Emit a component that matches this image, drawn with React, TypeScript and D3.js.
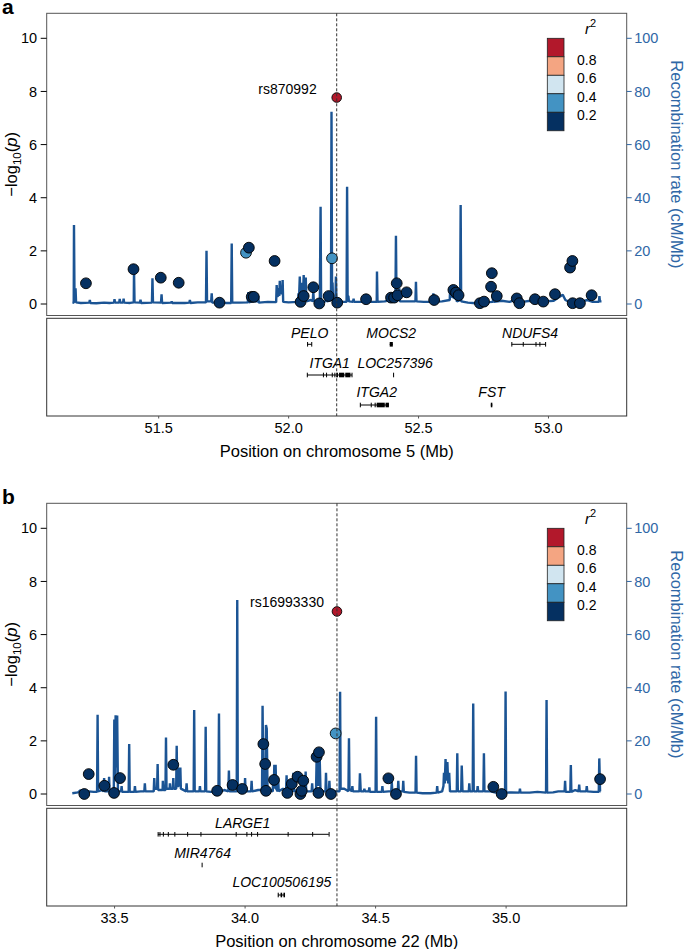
import React from "react";
import * as d3 from "d3";

// ---------------- DATA ----------------
const r2Breaks = [0.2, 0.4, 0.6, 0.8];
const r2Colors = ["#053061", "#4393C3", "#D1E5F0", "#F4A582", "#B2182B"];
const r2Labels = ["0.8", "0.6", "0.4", "0.2"];

const pTicks = [0, 2, 4, 6, 8, 10];
const recTicks = [0, 20, 40, 60, 80, 100];

// Panel a: chromosome 5
const xDomainA: [number, number] = [51.069, 53.301];
const xTicksA = [51.5, 52.0, 52.5, 53.0];
const leadA = { pos: 52.185, p: 7.77, name: "rs870992" };
// [position Mb, -log10 p, r2]
const pointsA: [number, number, number][] = [
  [51.220, 0.78, 0.05], [51.403, 1.31, 0.05], [51.508, 0.99, 0.05], [51.577, 0.80, 0.05],
  [51.734, 0.05, 0.05], [51.836, 1.93, 0.3], [51.847, 2.12, 0.05], [51.858, 0.27, 0.05],
  [51.866, 0.27, 0.05], [51.946, 1.62, 0.05], [52.046, 0.08, 0.05], [52.058, 0.30, 0.05],
  [52.095, 0.63, 0.05], [52.118, 0.02, 0.05], [52.154, 0.30, 0.05], [52.167, 1.72, 0.3],
  [52.187, 0.05, 0.05], [52.298, 0.18, 0.05], [52.394, 0.24, 0.05], [52.406, 0.24, 0.05],
  [52.416, 0.78, 0.05], [52.419, 0.33, 0.05], [52.454, 0.44, 0.05], [52.560, 0.15, 0.05],
  [52.634, 0.53, 0.05], [52.644, 0.43, 0.05], [52.654, 0.33, 0.05], [52.736, 0.03, 0.05],
  [52.752, 0.09, 0.05], [52.782, 1.16, 0.05], [52.779, 0.65, 0.05], [52.801, 0.30, 0.05],
  [52.878, 0.21, 0.05], [52.888, 0.03, 0.05], [52.948, 0.18, 0.05], [52.980, 0.09, 0.05],
  [53.025, 0.37, 0.05], [53.083, 1.37, 0.05], [53.092, 1.62, 0.05], [53.093, 0.03, 0.05],
  [53.121, 0.03, 0.05], [53.166, 0.33, 0.05],
];
// [position Mb, recombination rate cM/Mb]
const recA: [number, number][] = [
  [51.168, 0.4], [51.173, 0.5], [51.174, 29.7], [51.176, 2], [51.179, 2], [51.180, 5.9], [51.182, 0.6],
  [51.20, 0.4], [51.233, 0.5], [51.235, 1.5], [51.237, 0.4], [51.26, 0.3], [51.29, 0.5], [51.31, 0.4],
  [51.328, 0.5], [51.33, 1.8], [51.332, 0.5], [51.348, 0.5], [51.35, 1.9], [51.352, 0.5], [51.363, 0.5],
  [51.365, 2], [51.367, 0.5], [51.39, 0.4], [51.404, 0.6], [51.405, 12.8], [51.407, 0.6], [51.428, 0.5],
  [51.43, 1.6], [51.432, 0.4], [51.474, 0.5], [51.476, 9.7], [51.478, 0.6], [51.509, 0.5], [51.511, 3.6],
  [51.513, 0.4], [51.548, 0.5], [51.55, 1], [51.552, 0.4], [51.60, 0.4], [51.618, 0.5], [51.62, 1.5],
  [51.622, 0.4], [51.65, 0.6], [51.682, 0.6], [51.684, 20], [51.686, 1], [51.702, 1], [51.704, 4],
  [51.706, 0.5], [51.74, 0.6], [51.76, 0.4], [51.779, 0.4], [51.781, 22.8], [51.783, 0.5], [51.81, 0.5],
  [51.843, 0.6], [51.845, 4.5], [51.847, 0.6], [51.86, 1], [51.881, 1], [51.883, 3], [51.885, 0.5],
  [51.92, 0.8], [51.952, 0.7], [51.954, 7.1], [51.956, 3], [51.960, 3], [51.962, 6], [51.964, 3],
  [51.966, 8.7], [51.968, 4], [51.975, 4], [51.977, 9], [51.979, 0.8], [52.00, 0.6], [52.036, 0.8],
  [52.038, 4], [52.040, 2], [52.043, 10.3], [52.045, 3], [52.051, 3], [52.053, 8], [52.055, 3],
  [52.058, 10.9], [52.060, 3], [52.064, 3], [52.066, 10], [52.068, 1], [52.085, 1.5], [52.093, 1],
  [52.095, 5], [52.097, 1], [52.12, 1], [52.123, 36.6], [52.125, 1], [52.144, 1], [52.146, 2],
  [52.148, 1], [52.163, 1.5], [52.165, 72.4], [52.167, 8], [52.169, 8], [52.171, 1], [52.180, 1],
  [52.182, 10.3], [52.184, 1], [52.20, 0.8], [52.223, 0.8], [52.225, 44.1], [52.227, 3], [52.230, 3],
  [52.232, 1], [52.248, 0.8], [52.25, 2], [52.252, 0.8], [52.28, 0.8], [52.30, 1], [52.32, 0.8],
  [52.339, 0.8], [52.340, 12.2], [52.342, 0.8], [52.37, 1], [52.39, 1.5], [52.411, 1.5], [52.413, 25.7],
  [52.415, 3], [52.424, 3], [52.426, 5.9], [52.428, 1], [52.46, 1], [52.488, 1], [52.490, 8.4],
  [52.492, 1], [52.52, 0.8], [52.555, 0.8], [52.557, 4], [52.559, 0.8], [52.59, 1], [52.620, 1.5],
  [52.622, 6.3], [52.624, 3], [52.643, 2], [52.645, 4], [52.647, 1], [52.660, 1.5], [52.662, 37.3],
  [52.664, 1], [52.69, 0.5], [52.72, 0.3], [52.75, 0.6], [52.786, 0.8], [52.788, 6], [52.790, 0.8],
  [52.82, 1.2], [52.85, 0.8], [52.87, 1.5], [52.90, 0.8], [52.93, 1.2], [52.96, 0.8], [52.99, 1],
  [53.02, 1.2], [53.04, 2.5], [53.055, 3.5], [53.065, 1.5], [53.08, 0.8], [53.09, 2], [53.10, 0.8],
  [53.13, 1], [53.15, 1.5], [53.17, 0.8], [53.194, 0.8], [53.196, 3], [53.198, 1], [53.204, 1],
];
// genes: name, start, end, exons [start,end][], row, label position
const genesA = [
  { name: "PELO", start: 52.071, end: 52.089, exons: [[52.071, 52.073], [52.087, 52.089]], row: 0, label: 52.081 },
  { name: "MOCS2", start: 52.389, end: 52.401, exons: [[52.389, 52.401]], row: 0, label: 52.395 },
  { name: "NDUFS4", start: 52.858, end: 52.988, exons: [[52.857, 52.859], [52.901, 52.903], [52.950, 52.952], [52.965, 52.967], [52.987, 52.989]], row: 0, label: 52.929 },
  { name: "ITGA1", start: 52.071, end: 52.244, exons: [[52.070, 52.073], [52.132, 52.134], [52.144, 52.146], [52.166, 52.168], [52.176, 52.179], [52.183, 52.190], [52.194, 52.214], [52.218, 52.238], [52.242, 52.245]], row: 1, label: 52.158 },
  { name: "LOC257396", start: 52.402, end: 52.404, exons: [[52.402, 52.404]], row: 1, label: 52.410 },
  { name: "ITGA2", start: 52.275, end: 52.386, exons: [[52.274, 52.276], [52.316, 52.318], [52.331, 52.335], [52.339, 52.370], [52.373, 52.386]], row: 2, label: 52.339 },
  { name: "FST", start: 52.778, end: 52.784, exons: [[52.778, 52.784]], row: 2, label: 52.781 },
];

// Panel b: chromosome 22
const xDomainB: [number, number] = [33.240, 35.462];
const xTicksB = [33.5, 34.0, 34.5, 35.0];
const leadB = { pos: 34.352, p: 6.87, name: "rs16993330" };
const pointsB: [number, number, number][] = [
  [33.384, 0.0, 0.05], [33.401, 0.75, 0.05], [33.461, 0.31, 0.05], [33.498, 0.04, 0.05],
  [33.521, 0.60, 0.05], [33.725, 1.10, 0.05], [33.893, 0.12, 0.05], [33.952, 0.34, 0.05],
  [33.989, 0.19, 0.05], [34.070, 1.88, 0.05], [34.077, 1.13, 0.05], [34.080, 0.12, 0.05],
  [34.111, 0.53, 0.05], [34.162, 0.04, 0.05], [34.179, 0.38, 0.05], [34.201, 0.65, 0.05],
  [34.212, 0.0, 0.05], [34.217, 0.12, 0.05], [34.223, 0.50, 0.05], [34.274, 1.40, 0.05],
  [34.283, 1.57, 0.05], [34.281, 0.04, 0.05], [34.329, 0.0, 0.05], [34.347, 2.28, 0.3],
  [34.549, 0.59, 0.05], [34.578, 0.0, 0.05], [34.951, 0.27, 0.05], [34.983, 0.0, 0.05],
  [35.360, 0.56, 0.05],
];
const recB: [number, number][] = [
  [33.338, 0.3], [33.36, 0.6], [33.37, 1.5], [33.38, 0.4], [33.40, 1], [33.42, 0.8], [33.433, 0.8],
  [33.435, 29.8], [33.437, 1], [33.45, 1.5], [33.458, 1], [33.460, 6], [33.462, 1], [33.477, 1],
  [33.479, 6.5], [33.481, 1], [33.497, 1], [33.499, 28], [33.502, 5], [33.504, 29.6], [33.507, 10],
  [33.510, 29.5], [33.513, 1], [33.525, 1], [33.527, 3], [33.529, 0.8], [33.554, 0.8], [33.556, 18.8],
  [33.558, 0.8], [33.576, 0.8], [33.578, 3], [33.580, 0.8], [33.60, 1], [33.614, 1], [33.616, 4],
  [33.618, 1], [33.64, 1], [33.650, 1], [33.652, 6], [33.654, 2], [33.663, 2], [33.665, 11.3],
  [33.667, 1.5], [33.684, 1.5], [33.685, 5], [33.687, 1.5], [33.695, 1.5], [33.697, 21.3], [33.699, 2],
  [33.711, 2], [33.712, 4], [33.714, 2], [33.723, 2], [33.725, 6], [33.727, 2], [33.736, 2],
  [33.738, 18.2], [33.740, 3], [33.746, 3], [33.748, 10], [33.750, 4], [33.752, 10], [33.754, 2],
  [33.774, 1], [33.776, 4], [33.778, 1], [33.803, 1], [33.805, 31.6], [33.807, 1], [33.825, 1],
  [33.827, 3], [33.829, 1], [33.847, 1], [33.849, 25.3], [33.851, 1], [33.87, 0.8], [33.898, 0.8],
  [33.900, 30.3], [33.902, 0.8], [33.92, 1.5], [33.936, 1], [33.938, 8.8], [33.940, 1], [33.955, 1],
  [33.968, 1], [33.970, 73], [33.972, 1], [33.998, 1], [34.000, 6], [34.002, 1], [34.023, 1],
  [34.025, 5], [34.027, 1], [34.05, 1.5], [34.065, 1.5], [34.067, 33.2], [34.070, 3], [34.078, 3],
  [34.080, 26], [34.083, 24.6], [34.086, 2], [34.106, 1], [34.108, 6], [34.110, 2], [34.112, 11],
  [34.114, 3], [34.117, 11], [34.119, 2], [34.125, 1], [34.127, 5], [34.129, 1], [34.145, 2],
  [34.157, 1], [34.159, 7], [34.161, 1], [34.183, 1], [34.185, 8], [34.187, 1], [34.21, 2],
  [34.230, 1], [34.232, 8.5], [34.234, 1], [34.255, 1], [34.257, 4], [34.259, 1], [34.272, 2],
  [34.274, 13], [34.277, 3], [34.280, 14], [34.283, 3], [34.286, 13], [34.289, 1], [34.308, 1],
  [34.310, 8], [34.312, 1], [34.321, 1], [34.323, 5], [34.325, 1], [34.345, 1], [34.362, 1],
  [34.364, 38.5], [34.366, 2], [34.38, 2], [34.396, 1], [34.398, 21], [34.40, 2], [34.409, 1],
  [34.411, 3], [34.413, 1], [34.438, 1], [34.440, 7.8], [34.443, 1], [34.455, 1], [34.457, 2],
  [34.459, 1], [34.474, 1], [34.476, 2.5], [34.478, 0.8], [34.500, 0.8], [34.502, 29.1], [34.504, 0.8],
  [34.524, 0.8], [34.526, 3], [34.528, 0.8], [34.55, 1], [34.560, 1], [34.562, 4.5], [34.564, 1],
  [34.585, 1], [34.587, 5], [34.589, 1], [34.604, 1], [34.606, 5], [34.608, 0.8], [34.63, 0.5],
  [34.653, 0.5], [34.655, 14.4], [34.657, 0.5], [34.68, 0.3], [34.71, 0.3], [34.734, 0.5],
  [34.736, 3], [34.738, 0.5], [34.755, 1], [34.760, 3], [34.762, 8], [34.765, 4], [34.768, 13.2],
  [34.771, 5], [34.775, 12], [34.778, 4], [34.782, 8], [34.785, 1], [34.80, 1], [34.811, 1],
  [34.813, 15.3], [34.815, 1], [34.828, 1], [34.830, 10.7], [34.833, 1], [34.857, 1], [34.859, 4],
  [34.861, 1], [34.872, 1], [34.874, 34.1], [34.876, 1], [34.889, 1], [34.891, 3], [34.893, 1],
  [34.913, 1], [34.915, 15.3], [34.917, 1], [34.94, 1], [34.96, 0.5], [34.996, 0.5], [34.998, 38.6],
  [35.000, 0.5], [35.02, 0.6], [35.051, 0.5], [35.053, 2], [35.055, 0.5], [35.09, 0.5], [35.12, 0.8],
  [35.153, 0.5], [35.155, 35.4], [35.157, 0.5], [35.18, 0.6], [35.20, 1], [35.224, 1], [35.226, 5],
  [35.228, 0.8], [35.246, 0.8], [35.248, 10.9], [35.25, 0.8], [35.265, 1.5], [35.278, 1], [35.280, 3.5],
  [35.282, 1], [35.307, 1], [35.309, 3], [35.311, 1], [35.335, 0.8], [35.355, 0.8], [35.357, 13.4],
  [35.360, 1], [35.362, 1],
];
const genesB = [
  { name: "LARGE1", start: 33.666, end: 34.321, exons: [[33.665, 33.668], [33.672, 33.674], [33.685, 33.687], [33.704, 33.706], [33.729, 33.731], [33.778, 33.780], [33.829, 33.831], [33.964, 33.966], [34.005, 34.007], [34.023, 34.025], [34.046, 34.048], [34.163, 34.165], [34.257, 34.259], [34.320, 34.322]], row: 0, label: 33.991 },
  { name: "MIR4764", start: 33.834, end: 33.834, exons: [[33.8335, 33.8345]], row: 1, label: 33.837 },
  { name: "LOC100506195", start: 34.126, end: 34.153, exons: [[34.125, 34.129], [34.136, 34.142], [34.147, 34.153]], row: 2, label: 34.141 },
];

// ---------------- LAYOUT ----------------
const FONT = "'Liberation Sans', Arial, Helvetica, sans-serif";
const LEFT = 46.7;
const RIGHT = 626.7;
const PLOT_TOP = 13.3;
const PLOT_BOTTOM = 315.5;
const GENE_TOP = 318.3;
const GENE_BOTTOM = 416;
const REC_COLOR = "#1b5494";
const AXIS_BLUE = "#2f67a6";

type Gene = { name: string; start: number; end: number; exons: number[][]; row: number; label: number };

function Panel(props: {
  offset: number; letter: string; xDomain: [number, number]; xTicks: number[];
  points: [number, number, number][]; rec: [number, number][]; genes: Gene[];
  lead: { pos: number; p: number; name: string }; chrom: string; labelDx: number;
}) {
  const { offset, letter, xDomain, xTicks, points, rec, genes, lead, chrom, labelDx } = props;
  const x = d3.scaleLinear().domain(xDomain).range([LEFT, RIGHT]);
  const y = d3.scaleLinear().domain([0, 10]).range([304, 38.3]);
  const yR = d3.scaleLinear().domain([0, 100]).range([304, 38.3]);
  const color = d3.scaleThreshold<number, string>().domain(r2Breaks).range(r2Colors);
  const line = d3.line<[number, number]>().x((d) => x(d[0])).y((d) => yR(d[1]));
  const clipId = "clip" + letter;
  const rowLabelY = [GENE_TOP + 19.5, GENE_TOP + 49.3, GENE_TOP + 79];
  const rowGeneY = [GENE_TOP + 26, GENE_TOP + 56.7, GENE_TOP + 86.7];
  const legX = 547.3, legW = 16.7, legTop = y(10), legH = (y(6.52) - y(10)) / 5;
  const lx = x(lead.pos);
  return (
    <g transform={`translate(0,${offset})`} fontFamily={FONT}>
      <defs>
        <clipPath id={clipId}>
          <rect x={LEFT} y={PLOT_TOP} width={RIGHT - LEFT} height={PLOT_BOTTOM - PLOT_TOP} />
        </clipPath>
      </defs>
      <text x={2} y={14} fontSize={21} fontWeight="bold" fill="#000">{letter}</text>

      {/* recombination line */}
      <path d={line(rec) || ""} fill="none" stroke={REC_COLOR} strokeWidth={2.4} strokeLinejoin="bevel" clipPath={`url(#${clipId})`} />

      {/* points */}
      {points.map((d, i) => (
        <circle key={i} cx={x(d[0])} cy={y(d[1])} r={5.4} fill={color(d[2])} stroke="#000" strokeWidth={0.9} />
      ))}
      <circle cx={lx} cy={y(lead.p)} r={4.8} fill={r2Colors[4]} stroke="#000" strokeWidth={0.9} />
      <text x={lx - labelDx} y={y(lead.p) - 4} fontSize={14} textAnchor="end" fill="#000">{lead.name}</text>

      {/* frames */}
      <rect x={LEFT} y={PLOT_TOP} width={RIGHT - LEFT} height={PLOT_BOTTOM - PLOT_TOP} fill="none" stroke="#555" strokeWidth={1} />
      <rect x={LEFT} y={GENE_TOP} width={RIGHT - LEFT} height={GENE_BOTTOM - GENE_TOP} fill="none" stroke="#333" strokeWidth={1} />

      {/* left axis */}
      {pTicks.map((t) => (
        <g key={t}>
          <line x1={LEFT - 6} x2={LEFT} y1={y(t)} y2={y(t)} stroke="#000" strokeWidth={1} />
          <text x={LEFT - 9.5} y={y(t)} dy="0.35em" fontSize={14.5} textAnchor="end" fill="#000">{t}</text>
        </g>
      ))}
      <text transform={`translate(17,${(PLOT_TOP + PLOT_BOTTOM) / 2}) rotate(-90)`} textAnchor="middle" fontSize={16.5} fill="#000">
        −log<tspan fontSize={11.5} dy={4}>10</tspan><tspan dy={-4}>(</tspan><tspan fontStyle="italic">p</tspan>)
      </text>

      {/* right axis */}
      {recTicks.map((t) => (
        <g key={t}>
          <line x1={RIGHT} x2={RIGHT + 5} y1={yR(t)} y2={yR(t)} stroke={AXIS_BLUE} strokeWidth={1} />
          <text x={RIGHT + 7.5} y={yR(t)} dy="0.35em" fontSize={14.5} fill={AXIS_BLUE}>{t}</text>
        </g>
      ))}
      <text transform={`translate(671,${(PLOT_TOP + PLOT_BOTTOM) / 2}) rotate(90)`} textAnchor="middle" fontSize={16.5} fill={AXIS_BLUE}>
        Recombination rate (cM/Mb)
      </text>

      {/* legend */}
      <text x={585} y={34} fontSize={15} fill="#000"><tspan fontStyle="italic">r</tspan><tspan fontSize={11} dy={-7}>2</tspan></text>
      {[4, 3, 2, 1, 0].map((ci, i) => (
        <rect key={ci} x={legX} y={legTop + i * legH} width={legW} height={legH} fill={r2Colors[ci]} stroke="#222" strokeWidth={0.8} />
      ))}
      {r2Labels.map((l, i) => (
        <text key={l} x={577} y={legTop + (i + 1) * legH + 3} dy="0.35em" fontSize={14} fill="#000">{l}</text>
      ))}

      {/* genes */}
      {genes.map((g) => (
        <g key={g.name}>
          <text x={x(g.label)} y={rowLabelY[g.row]} fontSize={14} fontStyle="italic" textAnchor="middle" fill="#000">{g.name}</text>
          {g.end > g.start && (
            <line x1={x(g.start)} x2={x(g.end)} y1={rowGeneY[g.row]} y2={rowGeneY[g.row]} stroke="#000" strokeWidth={1} />
          )}
          {g.exons.map((e, i) => (
            <rect key={i} x={x(e[0])} y={rowGeneY[g.row] - 2.3} width={Math.max(x(e[1]) - x(e[0]), 1)} height={4.6} fill="#000" />
          ))}
        </g>
      ))}

      {/* x axis */}
      {xTicks.map((t) => (
        <g key={t}>
          <line x1={x(t)} x2={x(t)} y1={GENE_BOTTOM} y2={GENE_BOTTOM + 2.5} stroke="#555" strokeWidth={1} />
          <text x={x(t)} y={GENE_BOTTOM + 16.5} fontSize={14.5} textAnchor="middle" fill="#000">{t.toFixed(1)}</text>
        </g>
      ))}
      <text x={(LEFT + RIGHT) / 2} y={GENE_BOTTOM + 41} fontSize={16.5} textAnchor="middle" fill="#000">
        Position on chromosome {chrom} (Mb)
      </text>

      {/* lead SNP dashed line */}
      <line x1={lx} x2={lx} y1={PLOT_TOP} y2={GENE_BOTTOM} stroke="#333" strokeWidth={1} strokeDasharray="3,2" />
    </g>
  );
}

export default function App() {
  return (
    <svg width={685} height={949} style={{ position: "absolute", left: 0, top: 0, background: "#fff" }}>
      <rect width={685} height={949} fill="#fff" />
      <Panel offset={0} letter="a" xDomain={xDomainA} xTicks={xTicksA} points={pointsA} rec={recA} genes={genesA as Gene[]} lead={leadA} chrom="5" labelDx={20} />
      <Panel offset={490} letter="b" xDomain={xDomainB} xTicks={xTicksB} points={pointsB} rec={recB} genes={genesB as Gene[]} lead={leadB} chrom="22" labelDx={13} />
    </svg>
  );
}
